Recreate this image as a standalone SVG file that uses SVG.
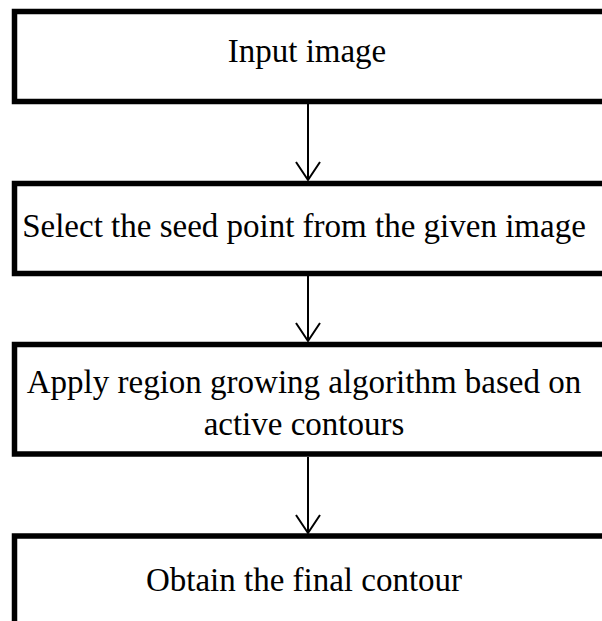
<svg xmlns="http://www.w3.org/2000/svg" width="602" height="621" viewBox="0 0 602 621">
<defs>
<style>
.box{fill:#fff;stroke:#000;stroke-width:5.5}
.lbl{font-family:"Liberation Serif","Times New Roman",serif;font-size:33px;fill:#000;text-anchor:middle}
.conn{stroke:#000;stroke-width:2;fill:none}
</style>
</defs>
<rect width="602" height="621" fill="#fff"/>
<g id="connectors">
<line class="conn" x1="308" y1="104" x2="308" y2="180"/>
<path class="conn" d="M296,162 L308,180 L320,162"/>
<line class="conn" x1="308" y1="276" x2="308" y2="341"/>
<path class="conn" d="M296,323 L308,341 L320,323"/>
<line class="conn" x1="308" y1="457" x2="308" y2="533"/>
<path class="conn" d="M296,515 L308,533 L320,515"/>
</g>
<g id="n1">
<rect class="box" x="14.5" y="11.5" width="600" height="90"/>
<text class="lbl" x="307" y="62">Input image</text>
</g>
<g id="n2">
<rect class="box" x="14.5" y="183.5" width="600" height="90"/>
<text class="lbl" x="304" y="237">Select the seed point from the given image</text>
</g>
<g id="n3">
<rect class="box" x="14.5" y="344.5" width="600" height="109.5"/>
<text class="lbl" x="304" y="393">Apply region growing algorithm based on</text>
<text class="lbl" x="304" y="435">active contours</text>
</g>
<g id="n4">
<rect class="box" x="14.5" y="536" width="600" height="120"/>
<text class="lbl" x="304" y="591">Obtain the final contour</text>
</g>
</svg>
